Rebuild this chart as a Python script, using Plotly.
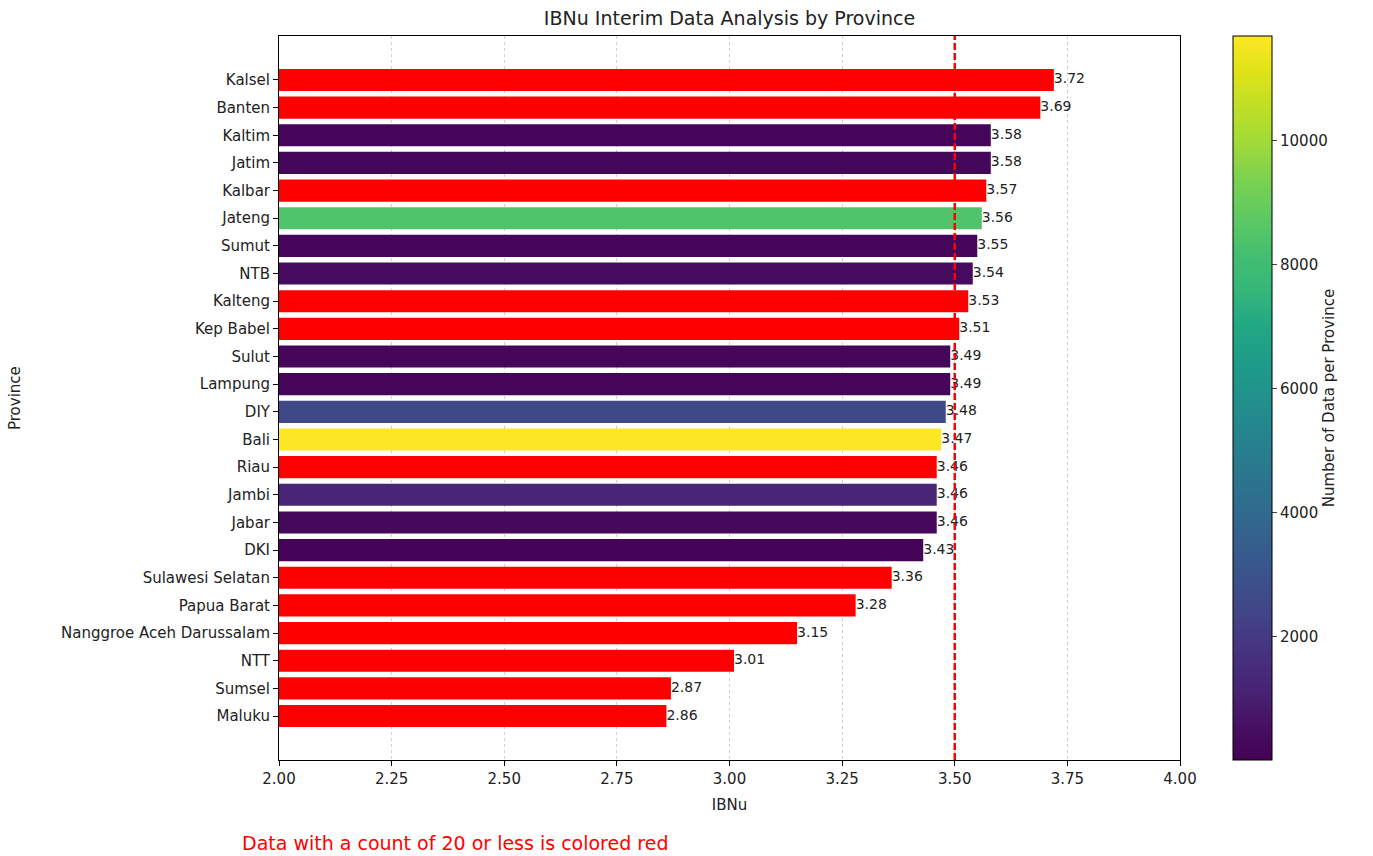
import plotly.graph_objects as go

provinces = ["Kalsel", "Banten", "Kaltim", "Jatim", "Kalbar", "Jateng", "Sumut", "NTB",
             "Kalteng", "Kep Babel", "Sulut", "Lampung", "DIY", "Bali", "Riau", "Jambi",
             "Jabar", "DKI", "Sulawesi Selatan", "Papua Barat", "Nanggroe Aceh Darussalam",
             "NTT", "Sumsel", "Maluku"]
ibnu = [3.72, 3.69, 3.58, 3.58, 3.57, 3.56, 3.55, 3.54, 3.53, 3.51, 3.49, 3.49, 3.48,
        3.47, 3.46, 3.46, 3.46, 3.43, 3.36, 3.28, 3.15, 3.01, 2.87, 2.86]
counts = [14, 11, 160, 230, 17, 8450, 190, 380, 12, 15, 150, 140, 2550, 11690, 18,
          1200, 260, 130, 19, 9, 16, 13, 10, 20]
x_ticks = [2.00, 2.25, 2.50, 2.75, 3.00, 3.25, 3.50, 3.75, 4.00]
cbar_ticks = [2000, 4000, 6000, 8000, 10000]
threshold_count = 20
ref_line = 3.5

viridis = [
    [0.00, "#440154"], [0.05, "#471164"], [0.10, "#482475"], [0.15, "#46337f"],
    [0.20, "#414487"], [0.25, "#3b528b"], [0.30, "#355f8d"], [0.35, "#2f6c8e"],
    [0.40, "#2a788e"], [0.45, "#25848e"], [0.50, "#21918c"], [0.55, "#1e9c89"],
    [0.60, "#22a884"], [0.65, "#35b779"], [0.70, "#44bf70"], [0.75, "#5ec962"],
    [0.80, "#7ad151"], [0.85, "#9fda3a"], [0.90, "#bddf26"], [0.95, "#dfe318"],
    [1.00, "#fde725"],
]

font_family = "DejaVu Sans"
text_color = "#222"
cmin, cmax = min(counts), max(counts)

ok = [i for i, c in enumerate(counts) if c > threshold_count]
low = [i for i, c in enumerate(counts) if c <= threshold_count]

fig = go.Figure()
fig.add_trace(go.Bar(
    y=[provinces[i] for i in ok], x=[ibnu[i] for i in ok], orientation="h",
    width=0.8, base=0,
    marker=dict(color=[counts[i] for i in ok], colorscale=viridis, cmin=cmin, cmax=cmax,
                line=dict(width=0), showscale=True,
                colorbar=dict(
                    x=(1233 - 279) / 901, xanchor="left", xref="paper", y=0, yanchor="bottom",
                    len=1, lenmode="fraction", thickness=39, thicknessmode="pixels",
                    xpad=0, ypad=0,
                    outlinecolor="black", outlinewidth=1,
                    tickvals=cbar_ticks, ticktext=[str(t) for t in cbar_ticks],
                    ticks="outside", ticklen=5,
                    tickfont=dict(family=font_family, size=15, color=text_color),
                    title=dict(text="Number of Data per Province", side="right",
                               font=dict(family=font_family, size=15, color=text_color)),
                )),
    showlegend=False, hoverinfo="x+y",
))
fig.add_trace(go.Bar(
    y=[provinces[i] for i in low], x=[ibnu[i] for i in low], orientation="h",
    width=0.8, base=0, marker=dict(color="red", line=dict(width=0)),
    showlegend=False, hoverinfo="x+y",
))
fig.add_trace(go.Scatter(
    y=provinces, x=ibnu, mode="text", text=[f"{v:.2f}" for v in ibnu],
    textposition="middle right",
    textfont=dict(family=font_family, size=14, color=text_color),
    showlegend=False, hoverinfo="skip", cliponaxis=False,
))

fig.add_shape(type="line", x0=ref_line, x1=ref_line, xref="x", y0=0, y1=1, yref="paper",
              line=dict(color="red", width=2.5, dash="7px,3px"), layer="above")

n = len(provinces)
fig.update_layout(
    width=1373, height=856,
    margin=dict(l=279, r=193, t=36, b=96, autoexpand=False),
    paper_bgcolor="white", plot_bgcolor="white",
    barmode="overlay",
    font=dict(family=font_family, size=15, color=text_color),
    title=dict(text="IBNu Interim Data Analysis by Province", x=0.5, xref="paper",
               xanchor="center", y=1 - 18 / 856, yanchor="middle",
               font=dict(family=font_family, size=19, color=text_color)),
    xaxis=dict(range=[2, 4], tickvals=x_ticks, ticktext=[f"{t:.2f}" for t in x_ticks],
               showgrid=True, gridcolor="#d0d0d0", griddash="3px,3px", gridwidth=1,
               showline=True, mirror=True, linecolor="black", linewidth=1,
               ticks="outside", ticklen=5, tickcolor="black", zeroline=False,
               tickfont=dict(size=15),
               title=dict(text="IBNu", standoff=12, font=dict(size=15))),
    yaxis=dict(categoryorder="array", categoryarray=provinces[::-1],
               range=[-1.59, n - 1 + 1.59], showgrid=False,
               showline=True, mirror=True, linecolor="black", linewidth=1,
               ticks="outside", ticklen=5, tickcolor="black", zeroline=False,
               tickfont=dict(size=15)),
    annotations=[
        dict(text="Province", textangle=-90, x=(15 - 279) / 901, xref="paper",
             y=0.5, yref="paper", showarrow=False,
             font=dict(size=15, color=text_color), xanchor="center"),
        dict(text="Data with a count of 20 or less is colored red", x=-0.043, xref="paper",
             y=(760 - 843) / 724, yref="paper", xanchor="left", yanchor="middle",
             showarrow=False, font=dict(size=19, color="red")),
    ],
)

fig.write_html("out.html")
